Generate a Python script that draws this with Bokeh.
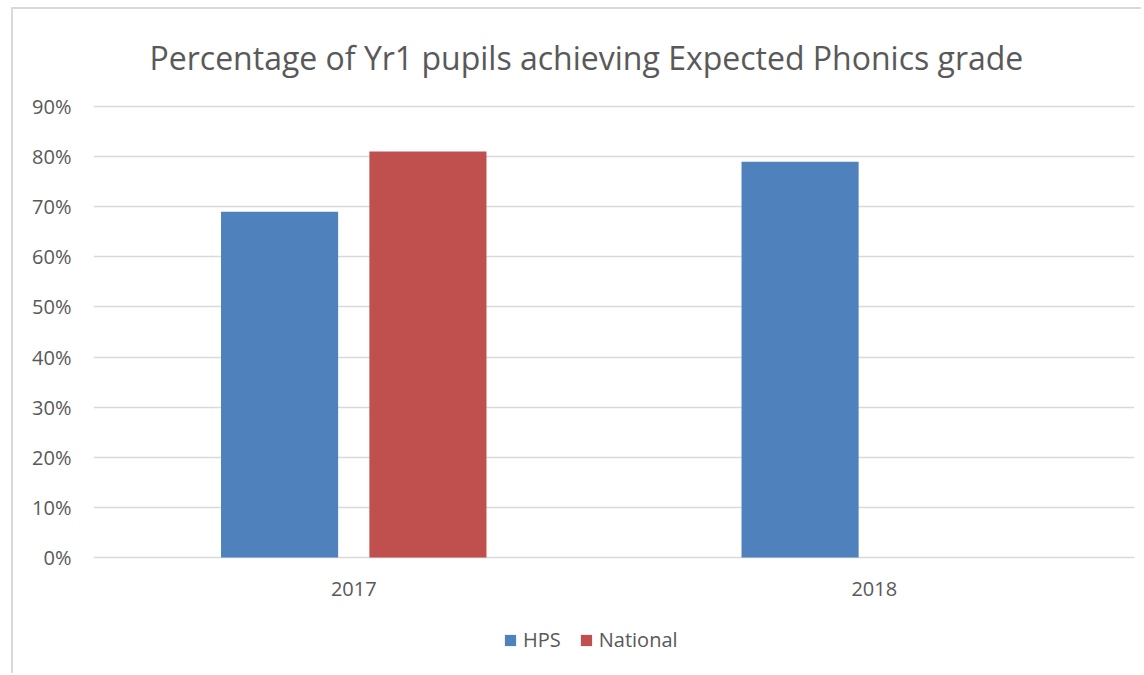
from bokeh.plotting import figure
from bokeh.models import ColumnDataSource, FactorRange, Range1d, FixedTicker, NumeralTickFormatter, Legend, LegendItem
from bokeh.core.properties import value
from bokeh.transform import dodge
from bokeh.embed import file_html
from bokeh.resources import INLINE

years = ["2017", "2018"]
hps = [0.69, 0.79]
national = [0.81, float("nan")]
y_ticks = [0.0, 0.1, 0.2, 0.3, 0.4, 0.5, 0.6, 0.7, 0.8, 0.9]

src = ColumnDataSource(dict(year=years, hps=hps, national=national))

FONT = "Open Sans"
GREY = "#595959"

p = figure(x_range=FactorRange(*years, range_padding=0), y_range=Range1d(-0.2355, 0.912),
           width=1130, height=666, output_backend="svg", toolbar_location=None,
           min_border_left=80, min_border_right=9, min_border_top=91, min_border_bottom=0)
p.styles = {"border-left": "2px solid #d9d9d9", "border-top": "2px solid #d9d9d9",
            "margin-left": "11px", "margin-top": "7px"}
p.outline_line_color = None

r1 = p.vbar(x=dodge("year", -0.1425, range=p.x_range), top="hps", width=0.225, source=src,
            color="#4F81BD", line_color=None)
r2 = p.vbar(x=dodge("year", 0.1425, range=p.x_range), top="national", width=0.225, source=src,
            color="#C0504D", line_color=None)

# category labels drawn below the 0% line
p.text(x="year", y=-0.062, text="year", source=src, text_font=value(FONT), text_font_size="20px",
       text_color=GREY, text_align="center", text_baseline="middle")

p.title.text = "Percentage of Yr1 pupils achieving Expected Phonics grade"
p.title.align = "left"
p.title.offset = 56
p.title.standoff = 44
p.title.text_font = FONT
p.title.text_font_size = "32px"
p.title.text_font_style = "normal"
p.title.text_color = GREY

p.xaxis.visible = False

p.yaxis.ticker = FixedTicker(ticks=y_ticks)
p.yaxis.formatter = NumeralTickFormatter(format="0%")
p.yaxis.axis_line_color = None
p.yaxis.major_tick_line_color = None
p.yaxis.minor_tick_line_color = None
p.yaxis.major_tick_out = 0
p.yaxis.major_tick_in = 0
p.yaxis.major_label_text_font = FONT
p.yaxis.major_label_text_font_size = "20px"
p.yaxis.major_label_text_color = GREY
p.yaxis.major_label_standoff = 22

p.xgrid.grid_line_color = None
p.ygrid.grid_line_color = "#d9d9d9"
p.ygrid.grid_line_width = 1.5

legend = Legend(items=[LegendItem(label="HPS", renderers=[r1]), LegendItem(label="National", renderers=[r2])],
                orientation="horizontal", location=(410, 22), border_line_color=None,
                background_fill_alpha=0,
                label_text_font=FONT, label_text_font_size="20px", label_text_color=GREY,
                glyph_width=14, glyph_height=14, label_height=24,
                spacing=18, label_standoff=6, padding=0, margin=0)
p.add_layout(legend, "center")

open("out.html", "w").write(file_html(p, INLINE))
